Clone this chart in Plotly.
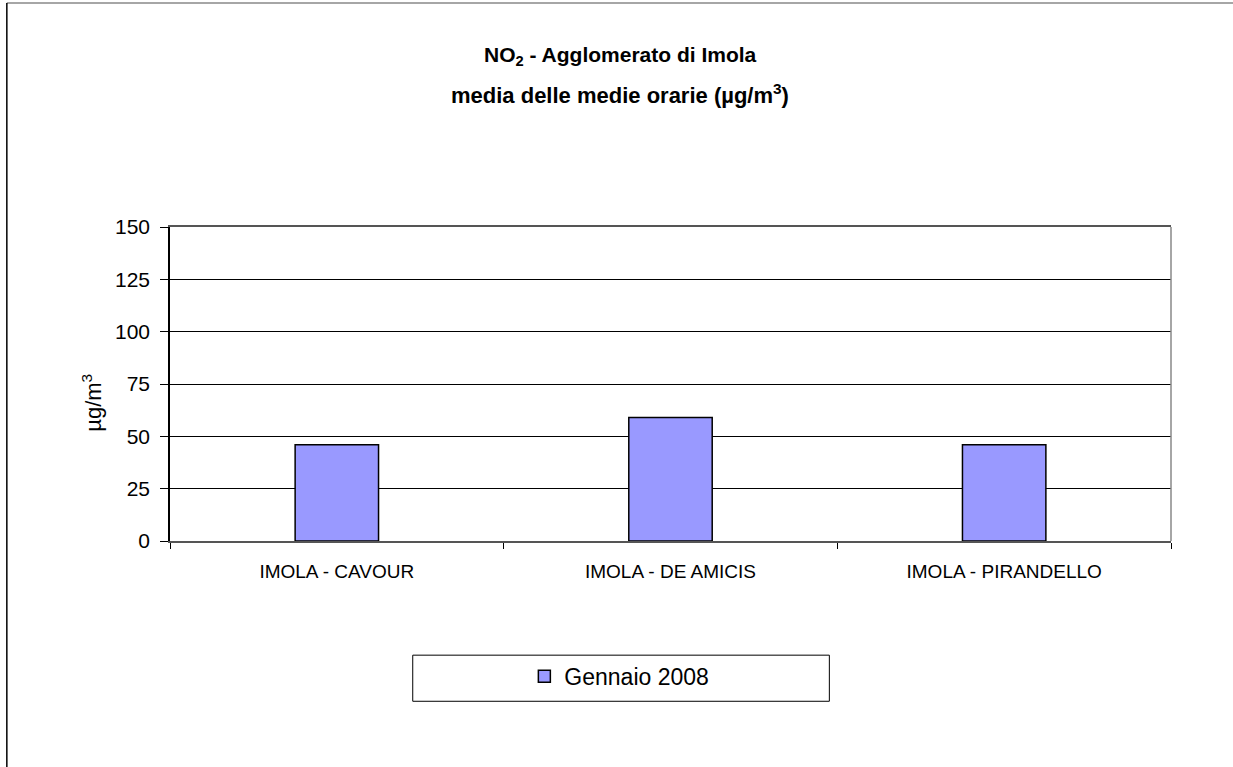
import plotly.graph_objects as go

# stazioni e valori (media delle medie orarie, ug/m3)
stations = ["IMOLA - CAVOUR", "IMOLA - DE AMICIS", "IMOLA - PIRANDELLO"]
no2_jan_2008 = [46, 59, 46]
y_ticks = [0, 25, 50, 75, 100, 125, 150]

title_1 = "<b>NO<sub>2</sub> - Agglomerato di Imola</b>"
title_2 = "<b>media delle medie orarie (µg/m<sup>3</sup>)</b>"
y_title = "µg/m<sup>3</sup>"

fig = go.Figure()

fig.add_trace(go.Bar(
    x=stations,
    y=no2_jan_2008,
    name="Gennaio 2008",
    width=0.25,
    marker=dict(color="#9999FF", line=dict(color="black", width=1.5)),
))

fig.update_layout(
    width=1233,
    height=767,
    margin=dict(l=170, r=62, t=227, b=226),
    paper_bgcolor="white",
    plot_bgcolor="white",
    font=dict(family="Liberation Sans, Arial", color="black"),
    showlegend=True,
    legend=dict(
        x=0.354, xanchor="left",
        y=-0.431, yanchor="middle",
        orientation="h",
        font=dict(size=23),
        bgcolor="rgba(0,0,0,0)",
    ),
    bargap=0.75,
)

# titolo su due righe, come annotazioni per poter regolare l'interlinea
fig.add_annotation(text=title_1, xref="paper", yref="paper", x=0.4496, y=1.545,
                   xanchor="center", yanchor="middle", showarrow=False, font=dict(size=21))
fig.add_annotation(text=title_2, xref="paper", yref="paper", x=0.4496, y=1.425,
                   xanchor="center", yanchor="middle", showarrow=False, font=dict(size=22))
fig.add_annotation(text=y_title, xref="paper", yref="paper", x=-0.078, y=0.44,
                   xanchor="center", yanchor="middle", textangle=-90, showarrow=False,
                   font=dict(size=22))

fig.update_xaxes(
    type="category",
    showline=True, linecolor="#555555", linewidth=1.5,
    mirror=True,
    tickson="boundaries",
    ticks="outside", ticklen=6, tickcolor="black",
    tickfont=dict(size=19),
    ticklabelstandoff=12,
    showgrid=False,
)

fig.update_yaxes(
    range=[0, 150],
    tickvals=y_ticks,
    showline=True, linecolor="black", linewidth=1.5,
    ticks="outside", ticklen=8, tickcolor="black",
    tickfont=dict(size=21),
    ticklabelstandoff=6,
    showgrid=True, gridcolor="black", gridwidth=1,
    zeroline=False,
)

# bordo destro dell'area del grafico e cornice esterna
fig.add_shape(type="line", xref="paper", yref="paper", x0=1, x1=1, y0=0, y1=1,
              line=dict(color="#888888", width=1.5))
fig.add_shape(type="line", xref="paper", yref="paper", x0=-0.163, x1=1.1, y0=1.713, y1=1.713,
              line=dict(color="#888888", width=1.5))
fig.add_shape(type="line", xref="paper", yref="paper", x0=-0.163, x1=-0.163, y0=-0.8, y1=1.713,
              line=dict(color="black", width=1.5))
# riquadro legenda
fig.add_shape(type="rect", xref="paper", yref="paper", x0=0.2425, x1=0.6587, y0=-0.3636, y1=-0.5104,
              line=dict(color="black", width=1))

fig.write_html("out.html", config={"displayModeBar": False},
               post_script="document.body.style.margin='0';")
